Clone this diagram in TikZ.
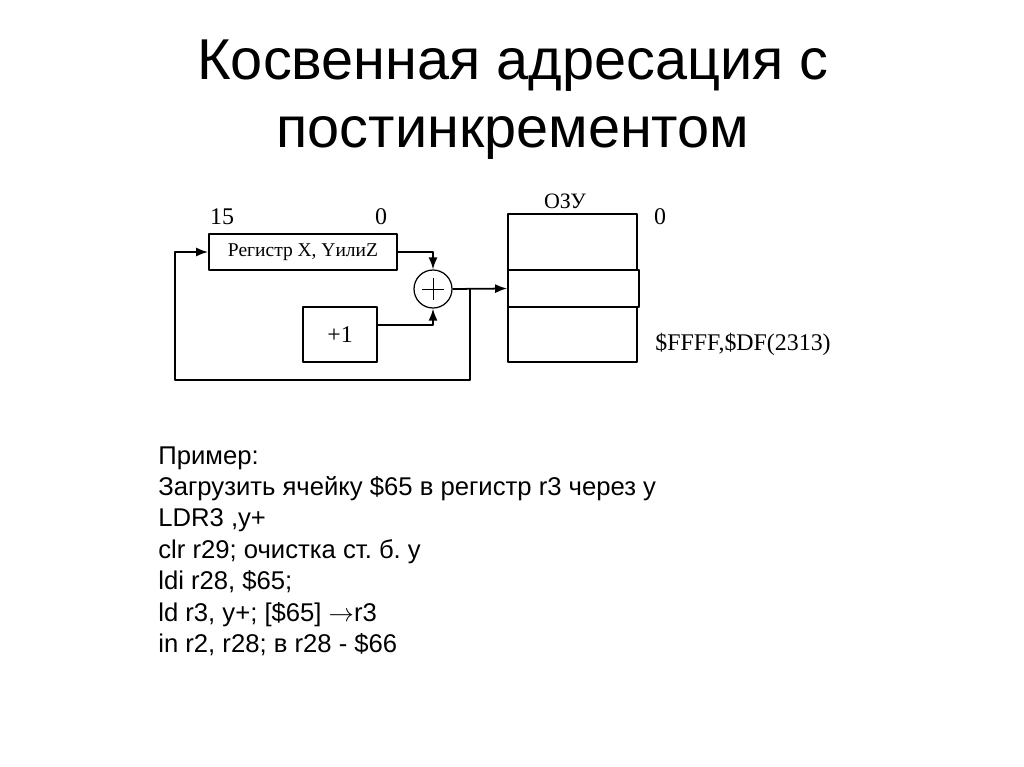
\documentclass[tikz,border=0pt]{standalone}
\usepackage{fontspec}
\usetikzlibrary{arrows.meta}
\setmainfont{Liberation Serif}
\newfontfamily\slidefont{Liberation Sans}
\frenchspacing
\tikzset{
  block/.style={draw, line width=1pt, fill=white, inner sep=0pt},
  adder/.style={draw, circle, line width=0.7pt, minimum size=0.76cm, inner sep=0pt,
    path picture={
      \draw[line width=0.5pt] ([xshift=-0.22cm]path picture bounding box.center) -- ([xshift=0.22cm]path picture bounding box.center);
      \draw[line width=0.5pt] ([yshift=-0.22cm]path picture bounding box.center) -- ([yshift=0.22cm]path picture bounding box.center);}},
  wire/.style={line width=1pt},
}
\begin{document}
\begin{tikzpicture} [x=0.02cm, y=-0.02cm, line join=round, >={Latex[length=0.24cm, width=0.18cm]}]
				\useasboundingbox (0,0) rectangle (1024,767);
				% title
				\node[anchor=base, font=\slidefont\fontsize{32.8}{36}\selectfont] (title1) at (513,80) {Косвенная адресация с};
				\node[anchor=base, font=\slidefont\fontsize{32.8}{36}\selectfont] (title2) at (513,148) {постинкрементом};
				% register, adder, +1
				\node[block, minimum width=3.76cm, minimum height=0.72cm, font=\fontsize{11.1}{13}\selectfont] (reg) at (303,252) {Регистр X, YилиZ};
				\node[font=\fontsize{13.6}{15}\selectfont] (msb) at (222,217) {15};
				\node[font=\fontsize{13.6}{15}\selectfont] (lsb) at (381,217) {0};
				\node[adder] (sum) at (433,289) {};
				\node[block, minimum width=1.48cm, minimum height=1.1cm, font=\fontsize{13.6}{15}\selectfont] (inc) at (340,334.5) {+1};
				% memory
				\node[block, minimum width=2.58cm, minimum height=2.96cm] (ram) at (572.5,288) {};
				\node[block, minimum width=2.62cm, minimum height=0.74cm] (cell) at (573.5,288.5) {};
				\node[font=\fontsize{12.5}{14}\selectfont] (ozu) at (565,201) {ОЗУ};
				\node[font=\fontsize{13.6}{15}\selectfont] (top) at (660,217) {0};
				\node[anchor=west, font=\fontsize{13.6}{15}\selectfont, inner sep=0pt] (end) at (655,344) {\$FFFF,\$DF(2313)};
				% connections
				\coordinate (fork) at (470,289);
				\coordinate (loop) at (175,380);
				\draw[wire, ->] (reg.east) -| (sum.north);
				\draw[wire, ->] ([yshift=0.19cm]inc.east) -| (sum.south);
				\draw[wire, ->] (sum.east) -- (cell.west);
				\draw[wire, ->] (fork) |- (loop) |- (reg.west);
				% example
				\node[anchor=north west, align=left, inner sep=0pt, font=\slidefont\fontsize{14.6}{17.9}\selectfont] (code) at (158,446) {Пример:\\
				Загрузить ячейку \$65 в регистр r3 через у\\
				LDR3 ,y+\\
				clr r29; очистка ст. б. у\\
				ldi r28, \$65;\\
				ld r3, y+; [\$65] $\rightarrow$r3\\
				in r2, r28; в r28 - \$66};
			\end{tikzpicture}
\end{document}
